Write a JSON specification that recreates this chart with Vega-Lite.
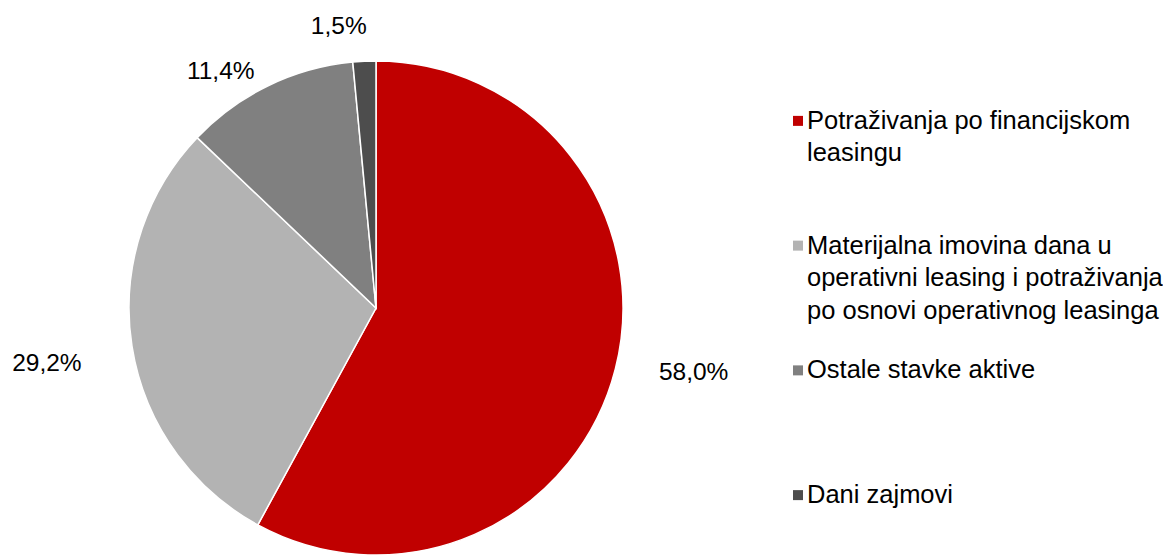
{
  "$schema": "https://vega.github.io/schema/vega-lite/v6.json",
  "background": "white",
  "padding": {"left": 12, "top": 5, "right": 0, "bottom": 0},
  "bounds": "flush",
  "spacing": 165,
  "config": {"view": {"stroke": null}, "font": "Liberation Sans"},
  "datasets": {
    "shares": [
      {"cat": "Potraživanja po financijskom leasingu", "lines": "Potraživanja po financijskom\nleasingu", "value": 58.0, "label": "58,0%", "rank": 1},
      {"cat": "Materijalna imovina dana u operativni leasing i potraživanja po osnovi operativnog leasinga", "lines": "Materijalna imovina dana u\noperativni leasing i potraživanja\npo osnovi operativnog leasinga", "value": 29.2, "label": "29,2%", "rank": 2},
      {"cat": "Ostale stavke aktive", "lines": "Ostale stavke aktive", "value": 11.4, "label": "11,4%", "rank": 3},
      {"cat": "Dani zajmovi", "lines": "Dani zajmovi", "value": 1.5, "label": "1,5%", "rank": 4}
    ]
  },
  "hconcat": [
    {
      "width": 494,
      "height": 494,
      "data": {"name": "shares"},
      "encoding": {
        "theta": {"field": "value", "type": "quantitative", "stack": true},
        "order": {"field": "rank", "type": "quantitative", "sort": "ascending"}
      },
      "layer": [
        {
          "mark": {"type": "arc", "outerRadius": 247, "stroke": "white", "strokeWidth": 1.5},
          "encoding": {
            "color": {
              "field": "cat", "type": "nominal", "legend": null,
              "scale": {
                "domain": ["Potraživanja po financijskom leasingu", "Materijalna imovina dana u operativni leasing i potraživanja po osnovi operativnog leasinga", "Ostale stavke aktive", "Dani zajmovi"],
                "range": ["#C00000", "#B3B3B3", "#808080", "#4D4D4D"]
              }
            }
          }
        },
        {
          "mark": {"type": "text", "radius": 262, "align": "left", "baseline": "middle", "dx": 29, "fontSize": 24.5, "color": "black"},
          "encoding": {"text": {"condition": {"test": "datum.rank == 1", "field": "label"}, "value": ""}}
        },
        {
          "mark": {"type": "text", "radius": 300, "align": "right", "baseline": "middle", "dx": 2, "dy": 10, "fontSize": 24.5, "color": "black"},
          "encoding": {"text": {"condition": {"test": "datum.rank == 2", "field": "label"}, "value": ""}}
        },
        {
          "mark": {"type": "text", "radius": 262, "align": "right", "baseline": "middle", "dx": -7, "fontSize": 24.5, "color": "black"},
          "encoding": {"text": {"condition": {"test": "datum.rank == 3", "field": "label"}, "value": ""}}
        },
        {
          "mark": {"type": "text", "radius": 281, "align": "center", "baseline": "middle", "dx": -24, "fontSize": 24.5, "color": "black"},
          "encoding": {"text": {"condition": {"test": "datum.rank == 4", "field": "label"}, "value": ""}}
        }
      ]
    },
    {
      "width": 20,
      "height": 494,
      "data": {"name": "shares"},
      "encoding": {
        "y": {"field": "cat", "type": "nominal", "axis": null, "sort": {"field": "rank"}, "scale": {"type": "point", "padding": 0.48}}
      },
      "layer": [
        {
          "mark": {"type": "point", "shape": "square", "filled": true, "size": 100, "opacity": 1},
          "encoding": {
            "color": {
              "field": "cat", "type": "nominal", "legend": null,
              "scale": {
                "domain": ["Potraživanja po financijskom leasingu", "Materijalna imovina dana u operativni leasing i potraživanja po osnovi operativnog leasinga", "Ostale stavke aktive", "Dani zajmovi"],
                "range": ["#C00000", "#B3B3B3", "#808080", "#4D4D4D"]
              }
            }
          }
        },
        {
          "mark": {"type": "text", "align": "left", "baseline": "alphabetic", "dx": 9, "dy": 8, "fontSize": 25.5, "lineHeight": 32.5, "lineBreak": "\n", "color": "black"},
          "encoding": {"text": {"field": "lines"}}
        }
      ]
    }
  ]
}
